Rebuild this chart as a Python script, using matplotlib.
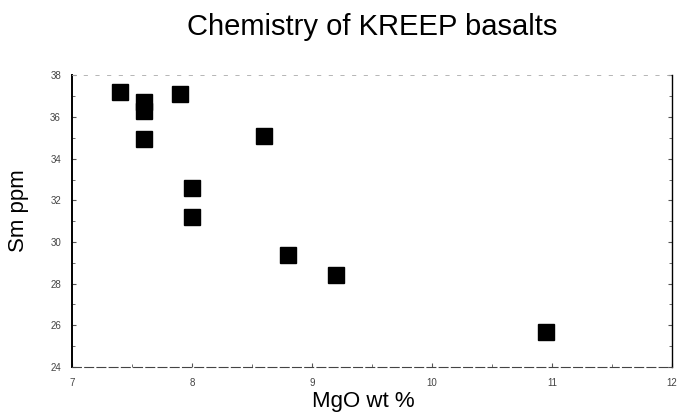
import matplotlib
matplotlib.use("Agg")
from matplotlib import pyplot as plt
from matplotlib.ticker import MultipleLocator

plt.rcParams['font.family'] = ['Liberation Sans', 'DejaVu Sans']

# KREEP basalt compositions
mgo_wt = [7.4, 7.6, 7.6, 7.6, 7.9, 8.6, 8.0, 8.0, 8.8, 9.2, 10.95]
sm_ppm = [37.2, 36.75, 36.3, 34.95, 37.1, 35.1, 32.6, 31.2, 29.4, 28.4, 25.7]

x_ticks = [7, 8, 9, 10, 11, 12]
y_ticks = [24, 26, 28, 30, 32, 34, 36, 38]

fig = plt.figure(figsize=(6.8, 4.17), dpi=100)
ax = fig.add_axes([0.106, 0.12, 0.882, 0.699])

ax.plot(mgo_wt, sm_ppm, linestyle='none', marker='s', markersize=11.5,
        color='black')

ax.set_xlim(7, 12)
ax.set_ylim(24, 38)
ax.set_xticks(x_ticks)
ax.set_yticks(y_ticks)
ax.xaxis.set_minor_locator(MultipleLocator(0.5))
ax.yaxis.set_minor_locator(MultipleLocator(1))
ax.tick_params(which='both', direction='in', right=True, top=False,
               labelsize=7, labelcolor='#444444', color='#555555')
ax.tick_params(which='major', length=3, pad=8)
ax.tick_params(which='minor', length=2)

# scanned-looking frame: solid left/right, broken bottom/top
ax.spines['left'].set_linewidth(1.4)
ax.spines['right'].set_linewidth(1.0)
ax.spines['bottom'].set_linewidth(0.8)
ax.spines['bottom'].set_linestyle((0, (8, 3)))
ax.spines['bottom'].set_color('#444444')
ax.spines['top'].set_linewidth(0.6)
ax.spines['top'].set_linestyle((0, (4, 10)))
ax.spines['top'].set_color('#aaaaaa')

fig.text(0.534, 0.038, 'MgO wt %', fontsize=16, ha='center', va='center')
fig.text(0.027, 0.496, 'Sm ppm', fontsize=16, ha='center', va='center',
         rotation=90)
fig.text(0.547, 0.935, 'Chemistry of KREEP basalts', fontsize=21,
         ha='center', va='center')

fig.savefig('out.png', dpi=100)
